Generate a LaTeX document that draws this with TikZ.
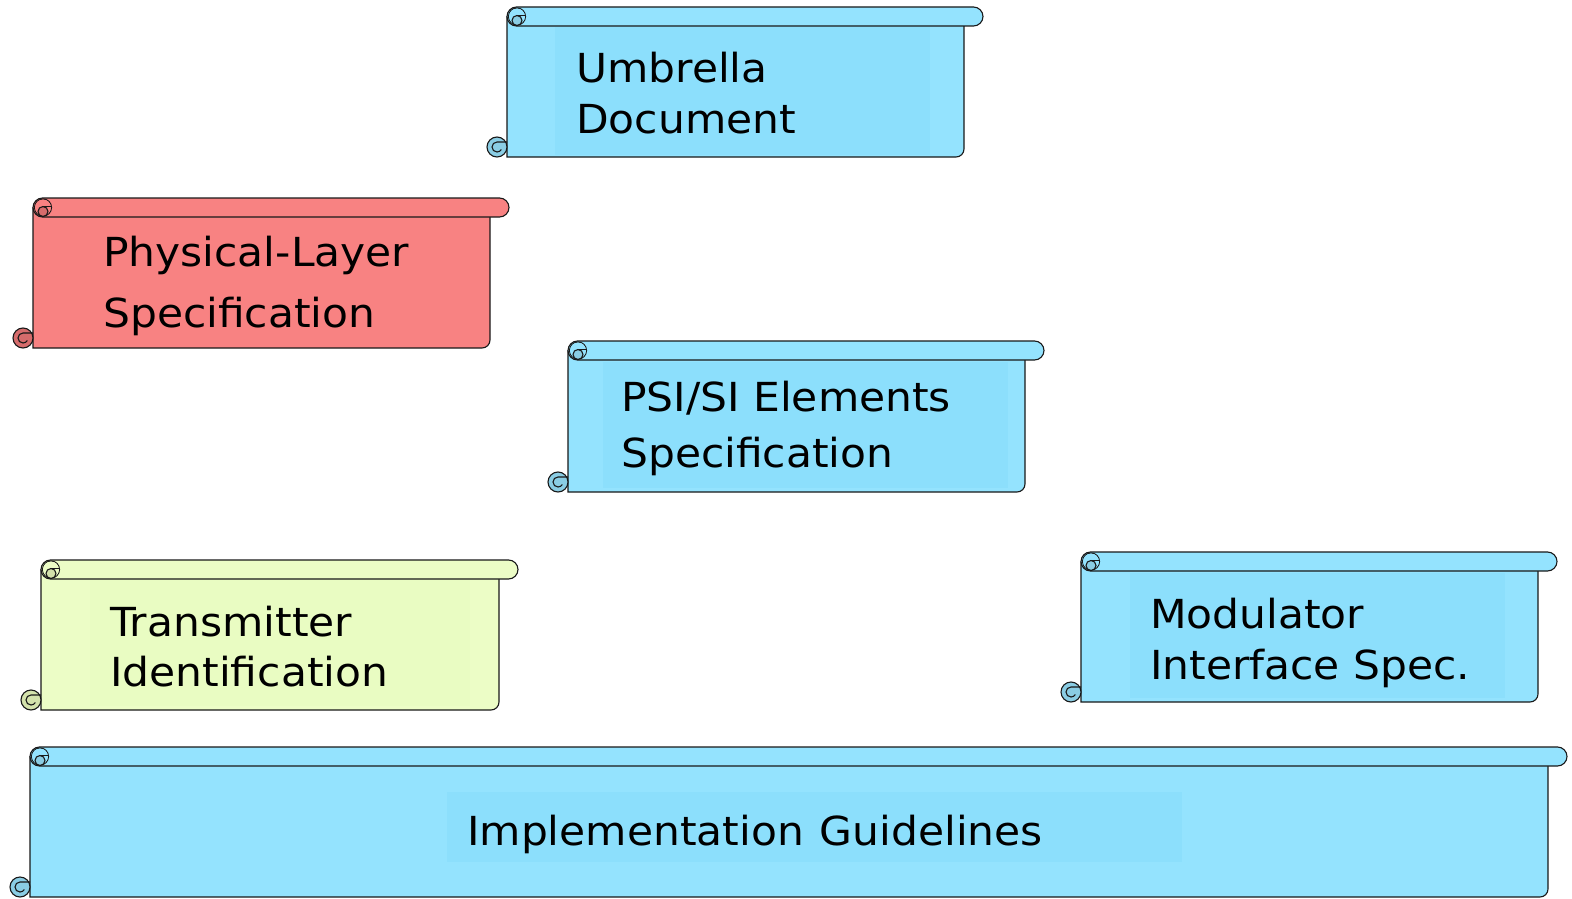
\documentclass[tikz,border=0pt]{standalone}
\usepackage{fontspec}
\setmainfont[FakeStretch=1.06]{DejaVu Sans}
\definecolor{bluebody}{RGB}{148,227,254}
\definecolor{blueinner}{RGB}{140,223,252}
\definecolor{bluecurl}{RGB}{138,205,228}
\definecolor{redbody}{RGB}{248,130,130}
\definecolor{redcurl}{RGB}{214,108,108}
\definecolor{yelbody}{RGB}{236,253,198}
\definecolor{yelinner}{RGB}{233,252,194}
\definecolor{yelcurl}{RGB}{212,226,172}
\definecolor{edge}{RGB}{25,25,25}
\tikzset{
  outline/.style={draw=edge, line width=1.1pt},
  label/.style={anchor=base west, inner sep=0pt, font=\fontsize{40}{48}\selectfont, text=black},
}
% #1 L, #2 T, #3 R, #4 B, #5 body fill, #6 curl fill
\newcommand\scrollbody[6]{%
  \draw[outline, fill=#5] (#1,#2+10) -- (#1,#4) [rounded corners=8pt] -- (#3,#4) -- (#3,#2+10) [sharp corners] -- cycle;
}
\newcommand\scrollroll[6]{%
  \draw[outline, fill=#5, rounded corners=9.5pt] (#1,#2) rectangle (#3+19,#2+19);
  \draw[outline] (#1+10,#2+9.5) circle (8.5);
  \fill[#5] (#1+10,#2+9.5) circle (8);
  \draw[outline, fill=#6] (#1+10,#2+13.5) circle (5);
  \draw[outline] (#1+10,#2+8.5) -- (#1+18.5,#2+8.5);
  \draw[outline, fill=#6] (#1-10,#4-10) circle (10);
  \draw[outline] (#1,#4-15) -- (#1-10,#4-15) arc[start angle=-90, end angle=-330, radius=5];
}
\begin{document}
\begin{tikzpicture}[x=1pt, y=-1pt]
\useasboundingbox (0,0) rectangle (1572,899);

% Umbrella Document
\scrollbody{507}{7}{964}{157}{bluebody}{bluecurl}
\fill[blueinner] (555,27) rectangle (930,155);
\scrollroll{507}{7}{964}{157}{bluebody}{bluecurl}
\node[label] (um1) at (576,83) {Umbrella};
\node[label] (um2) at (576,133) {Document};

% Physical-Layer Specification
\scrollbody{33}{198}{490}{348}{redbody}{redcurl}
\scrollroll{33}{198}{490}{348}{redbody}{redcurl}
\node[label] (ph1) at (103,266) {Physical-Layer};
\node[label] (ph2) at (103,327) {Specification};

% PSI/SI Elements Specification
\scrollbody{568}{341}{1025}{492}{bluebody}{bluecurl}
\fill[blueinner] (603,362) rectangle (1008,488);
\scrollroll{568}{341}{1025}{492}{bluebody}{bluecurl}
\node[label] (ps1) at (621,411) {PSI/SI Elements};
\node[label] (ps2) at (621,467) {Specification};

% Transmitter Identification
\scrollbody{41}{560}{499}{710}{yelbody}{yelcurl}
\fill[yelinner] (90,580) rectangle (470,706);
\scrollroll{41}{560}{499}{710}{yelbody}{yelcurl}
\node[label] (tr1) at (110,636) {Transmitter};
\node[label] (tr2) at (110,686) {Identification};

% Modulator Interface Spec.
\scrollbody{1081}{552}{1538}{702}{bluebody}{bluecurl}
\fill[blueinner] (1130,573) rectangle (1505,698);
\scrollroll{1081}{552}{1538}{702}{bluebody}{bluecurl}
\node[label] (mo1) at (1150,628) {Modulator};
\node[label] (mo2) at (1150,679) {Interface Spec.};

% Implementation Guidelines
\scrollbody{30}{747}{1548}{897}{bluebody}{bluecurl}
\fill[blueinner] (447,792) rectangle (1182,862);
\scrollroll{30}{747}{1548}{897}{bluebody}{bluecurl}
\node[label] (im) at (467,845) {Implementation\hspace{0.4em}Guidelines};
\end{tikzpicture}
\end{document}
